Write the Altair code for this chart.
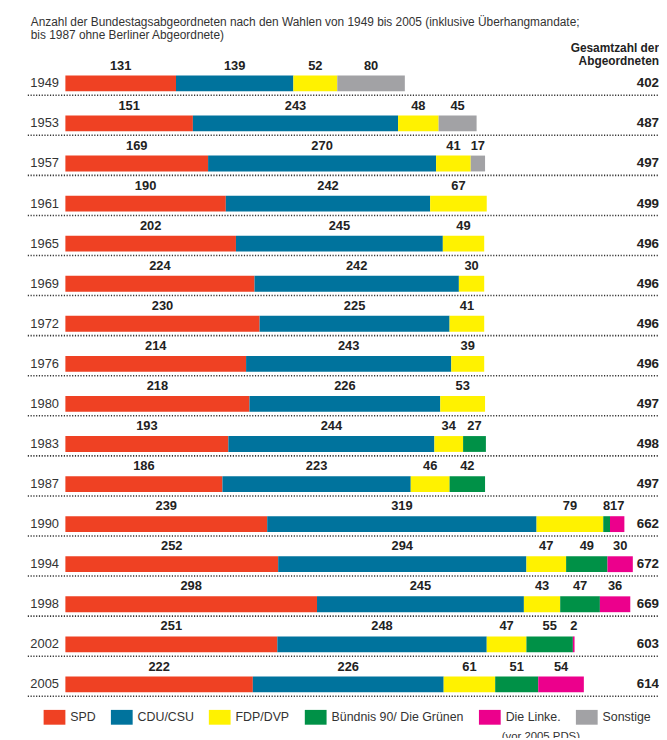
import altair as alt
import pandas as pd

years = ["1949", "1953", "1957", "1961", "1965", "1969", "1972", "1976",
         "1980", "1983", "1987", "1990", "1994", "1998", "2002", "2005"]
spd = [131, 151, 169, 190, 202, 224, 230, 214, 218, 193, 186, 239, 252, 298, 251, 222]
cdu = [139, 243, 270, 242, 245, 242, 225, 243, 226, 244, 223, 319, 294, 245, 248, 226]
fdp = [52, 48, 41, 67, 49, 30, 41, 39, 53, 34, 46, 79, 47, 43, 47, 61]
gruene = [0, 0, 0, 0, 0, 0, 0, 0, 0, 27, 42, 8, 49, 47, 55, 51]
linke = [0, 0, 0, 0, 0, 0, 0, 0, 0, 0, 0, 17, 30, 36, 2, 54]
sonstige = [80, 45, 17, 0, 0, 0, 0, 0, 0, 0, 0, 0, 0, 0, 0, 0]
totals = [402, 487, 497, 499, 496, 496, 496, 496, 497, 498, 497, 662, 672, 669, 603, 614]

parties = ["SPD", "CDU/CSU", "FDP/DVP", "Bündnis 90/ Die Grünen", "Die Linke.", "Sonstige"]
colors = ["#EF4123", "#00739D", "#FFF200", "#009147", "#EC008C", "#A2A2A5"]
series = [spd, cdu, fdp, gruene, linke, sonstige]

rows = []
for i, y in enumerate(years):
    start = 0
    for k, p in enumerate(parties):
        v = series[k][i]
        if v > 0:
            rows.append({"year": y, "party": p, "order": k, "value": v,
                         "start": start, "end": start + v, "mid": start + v / 2})
            start += v
df = pd.DataFrame(rows)
tot = pd.DataFrame({"year": years, "total": totals})

FONT = "Liberation Sans"
W = 600
ROW = 40.5
H = ROW * len(years)

yenc = alt.Y("year:O", sort=years,
             scale=alt.Scale(paddingInner=0, paddingOuter=0),
             axis=alt.Axis(title=None, domain=False, ticks=False, labelPadding=7,
                           labelFontSize=13, labelFont=FONT, labelColor="#333333"))
xscale = alt.Scale(domain=[0, 703], nice=False, zero=True)

bars = alt.Chart(df).mark_bar(height=16).encode(
    x=alt.X("start:Q", scale=xscale, axis=None),
    x2="end:Q",
    y=yenc,
    color=alt.Color("party:N",
                    scale=alt.Scale(domain=parties, range=colors),
                    legend=alt.Legend(title=None, orient="none", direction="horizontal",
                                      legendX=-22, legendY=650, gridAlign="none",
                                      symbolType="M-1,-0.68L1,-0.68L1,0.68L-1,0.68Z",
                                      symbolSize=484, symbolStrokeWidth=0,
                                      labelFont=FONT, labelFontSize=12.5,
                                      labelColor="#333333", labelOffset=5,
                                      columnPadding=15, labelLimit=300)),
    order="order:Q",
)

labels = alt.Chart(df).mark_text(dy=-18, font=FONT, fontSize=13, fontWeight="bold",
                                 color="#222222", baseline="middle").encode(
    x=alt.X("mid:Q", scale=xscale),
    y=alt.Y("year:O", sort=years),
    text="value:Q",
)

rules = alt.Chart(tot).mark_rule(yOffset=12, color="#333333", strokeWidth=1.6,
                                 strokeDash=[1.2, 1.6]).encode(
    x=alt.value(-38), x2=alt.value(W),
    y=alt.Y("year:O", sort=years),
)

totals_txt = alt.Chart(tot).mark_text(align="right", font=FONT, fontSize=13.5,
                                      fontWeight="bold", color="#222222",
                                      baseline="middle").encode(
    x=alt.value(W),
    y=alt.Y("year:O", sort=years),
    text="total:Q",
)

header = alt.Chart(pd.DataFrame({"t": [["Gesamtzahl der", "Abgeordneten"]]})).mark_text(
    align="right", baseline="alphabetic", font=FONT, fontSize=12, fontWeight="bold",
    color="#222222", lineHeight=13).encode(
    x=alt.value(W), y=alt.value(-11), text="t")

note = alt.Chart(pd.DataFrame({"t": ["(vor 2005 PDS)"]})).mark_text(
    align="left", baseline="alphabetic", font=FONT, fontSize=11.5, color="#333333").encode(
    x=alt.value(441), y=alt.value(684), text="t:N")

chart = alt.layer(rules, bars, labels, totals_txt, header, note).properties(
    width=W, height=H,
    title=alt.TitleParams(
        ["Anzahl der Bundestagsabgeordneten nach den Wahlen von 1949 bis 2005 (inklusive Überhangmandate;",
         " bis 1987 ohne Berliner Abgeordnete)"],
        anchor="start", frame="group", dx=-35, dy=17, offset=18, font=FONT, fontSize=12,
        fontWeight="normal", color="#333333", lineHeight=13),
    autosize=alt.AutoSizeParams(type="none"),
    padding={"left": 58, "top": 52, "right": 0, "bottom": 30},
).configure_view(stroke=None)

chart.save("out.html", embed_options={"renderer": "svg", "actions": False})
